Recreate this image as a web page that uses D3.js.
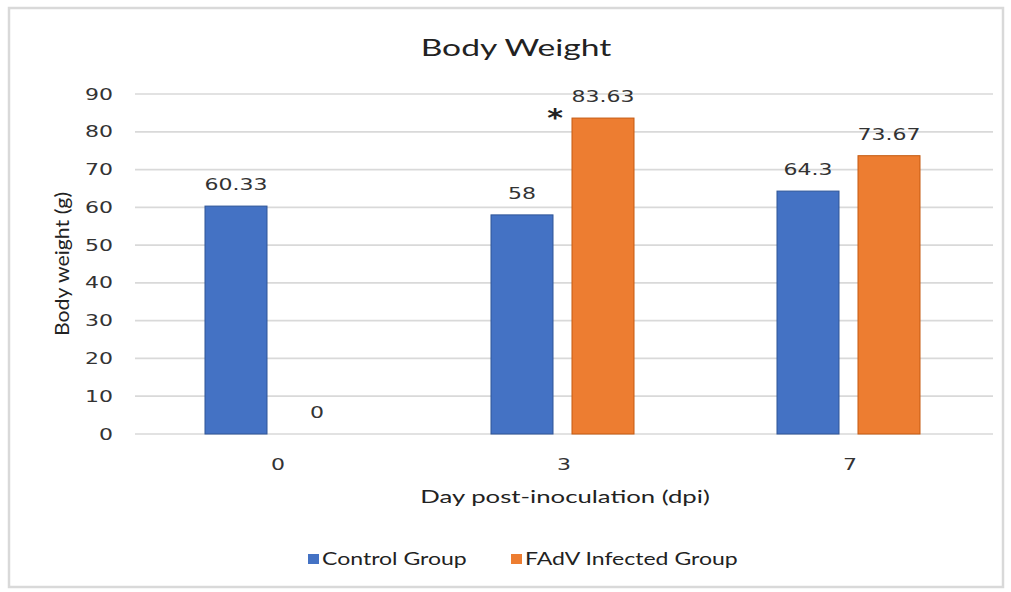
<!DOCTYPE html>
<html><head><meta charset="utf-8">
<script src="https://cdn.jsdelivr.net/npm/d3@7"></script>
<style>body{margin:0;background:#fff}</style>
</head><body>
<svg id="chart" width="1011" height="592"></svg>
<script>
const categories = ["0", "3", "7"];
const seriesNames = ["Control Group", "FAdV Infected Group"];
const controlValues = [60.33, 58, 64.3];
const infectedValues = [0, 83.63, 73.67];
const yTicks = [0, 10, 20, 30, 40, 50, 60, 70, 80, 90];
const colors = ["#4472C4", "#ED7D31"];
const strokes = ["#2F5597", "#C55A11"];

const svg = d3.select("#chart");
const SX = 1.3; // horizontal stretch of text in the reference
const numFont = "DejaVu Sans", txtFont = "Lato";

function stext(x, y, str, opts) {
  const t = svg.append("text")
    .attr("transform", `translate(${x},${y}) scale(${opts.sx||SX},1)`)
    .attr("text-anchor", opts.anchor || "middle")
    .attr("font-family", opts.font || txtFont)
    .attr("font-size", opts.size || 15)
    .attr("fill", opts.fill || "#404040")
    .text(str);
  if (opts.weight) t.attr("font-weight", opts.weight);
  return t;
}

// outer border
svg.append("rect").attr("x", 9).attr("y", 8).attr("width", 994).attr("height", 579)
  .attr("fill", "#fff").attr("stroke", "#d9d9d9").attr("stroke-width", 2.5);

const left = 135, right = 993;
const y = d3.scaleLinear().domain([0, 90]).range([434, 94]);
const x0 = d3.scaleBand().domain(categories).range([left, right]).padding(0);
const x1 = d3.scaleBand().domain(seriesNames).range([0, x0.bandwidth()])
  .paddingInner(0.2222).paddingOuter(0.8765);

// gridlines
svg.append("g").selectAll("line").data(yTicks).join("line")
  .attr("x1", left).attr("x2", right)
  .attr("y1", d => y(d)).attr("y2", d => y(d))
  .attr("stroke", "#d9d9d9").attr("stroke-width", 1.7);

const numOpts = {font: numFont, size: 15.5, fill: "#333", sx: 1.42};

// y tick labels
yTicks.forEach(t => stext(113, y(t) + 5.5, String(t), Object.assign({}, numOpts, {anchor: "end"})));

// bars
const data = categories.map((c, i) => ({cat: c, vals: [controlValues[i], infectedValues[i]]}));
const groups = svg.append("g").selectAll("g").data(data).join("g")
  .attr("transform", d => `translate(${x0(d.cat)},0)`);
groups.selectAll("rect").data(d => d.vals.map((v, j) => ({v, j}))).join("rect")
  .attr("x", d => x1(seriesNames[d.j]) - 1)
  .attr("y", d => y(d.v))
  .attr("width", x1.bandwidth() - 1)
  .attr("height", d => y(0) - y(d.v))
  .attr("fill", d => colors[d.j])
  .attr("stroke", d => d.v > 0 ? strokes[d.j] : "none")
  .attr("stroke-width", 1);

// data labels
data.forEach(d => {
  d.vals.forEach((v, j) => {
    const cx = x0(d.cat) + x1(seriesNames[j]) + x1.bandwidth() / 2 - 1.5;
    stext(cx, y(v) - 16, String(v), numOpts);
  });
});

// significance asterisk
{
  const cx = x0("3") + x1(seriesNames[1]);
  stext(cx - 18, y(infectedValues[1]) + 8, "*", {font: numFont, size: 25, fill: "#222", sx: 1.2, weight: "bold"});
}

// x tick labels
categories.forEach(c => stext(x0(c) + x0.bandwidth() / 2, 470, c, numOpts));

// title
stext(516, 56, "Body Weight", {size: 23.5, fill: "#222", sx: 1.43});

// axis titles
stext(565, 503, "Day post-inoculation (dpi)", {size: 18, fill: "#222", sx: 1.43});
svg.append("text")
  .attr("transform", `translate(69,264) rotate(-90) scale(1.12,1)`)
  .attr("text-anchor", "middle").attr("font-family", txtFont).attr("font-size", 19)
  .attr("fill", "#222").text("Body weight (g)");

// legend
const legendItems = [{name: seriesNames[0], sx: 308, tx: 322}, {name: seriesNames[1], sx: 511, tx: 525}];
legendItems.forEach((it, i) => {
  svg.append("rect").attr("x", it.sx).attr("y", 554).attr("width", 11).attr("height", 10)
    .attr("fill", colors[i]);
  stext(it.tx, 565, it.name, {anchor: "start", size: 18, fill: "#222", sx: 1.28});
});
</script>
</body></html>
